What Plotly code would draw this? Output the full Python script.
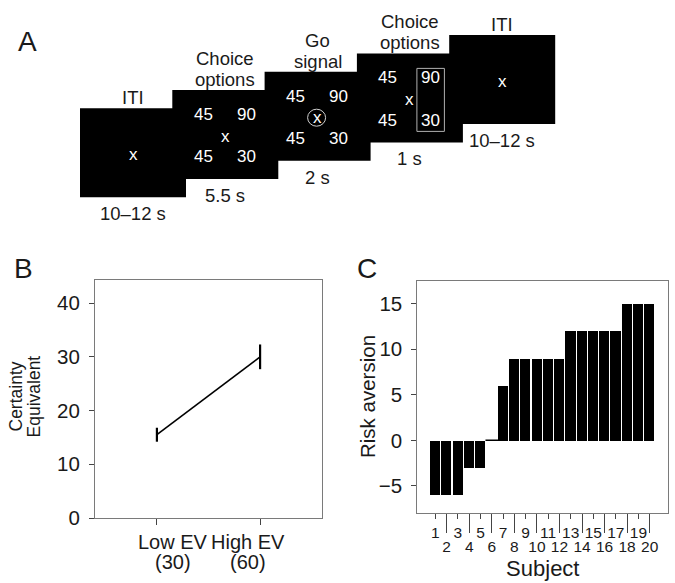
import plotly.graph_objects as go

W, H = 675, 583

# ---------------- Panel A: trial timeline ----------------
stage_titles = [["ITI"], ["Choice", "options"], ["Go", "signal"], ["Choice", "options"], ["ITI"]]
stage_durations = ["10–12 s", "5.5 s", "2 s", "1 s", "10–12 s"]
stage_screens = ["fixation", "options", "go", "chosen", "fixation"]
option_left = ["45", "45"]
option_right = ["90", "30"]

# ---------------- Panel B: certainty equivalents ----------------
ev_names = ["Low EV", "High EV"]
ev_values = ["(30)", "(60)"]
ev_positions = [1, 2]
certainty_equiv = [15.5, 30.0]
certainty_err = [1.3, 2.3]

# ---------------- Panel C: risk aversion per subject ----------------
subjects = list(range(1, 21))
risk_aversion = [-6, -6, -6, -3, -3, 0, 6, 9, 9, 9, 9, 9, 12, 12, 12, 12, 12, 15, 15, 15]

FONT = "Liberation Sans, Arial, Helvetica, sans-serif"
TXT = "#1a1a1a"
FRAME = "#7a7a7a"
TICKC = "#444"


def px(x):
    return x / W


def py(y):
    return 1 - y / H


def ann(text, x, y, size, color=TXT, xanchor="center", yanchor="middle", angle=0, **kw):
    d = dict(text=text, x=x, y=y, xref=kw.pop("xref", "paper"), yref=kw.pop("yref", "paper"),
             xanchor=xanchor, yanchor=yanchor, showarrow=False, textangle=angle,
             font=dict(size=size, color=color, family=FONT))
    d.update(kw)
    return d


fig = go.Figure()
shapes = []
annotations = []

# ---- Panel A drawing (screens laid out in a staircase) ----
RW, RH = 106, 89
for i, (title, dur, screen) in enumerate(zip(stage_titles, stage_durations, stage_screens)):
    x0 = 80 + 92.3 * i
    y0 = 108.3 - 18.3 * i
    cx = x0 + RW / 2
    shapes.append(dict(type="rect", xref="paper", yref="paper",
                       x0=px(x0), x1=px(x0 + RW), y0=py(y0 + RH), y1=py(y0),
                       fillcolor="black", line=dict(width=0), layer="above"))
    n = len(title)
    for k, line in enumerate(title):
        annotations.append(ann(line, px(cx), py(y0 - 10.5 - 21 * (n - 1 - k)), 18.5))
    annotations.append(ann(dur, px(cx), py(y0 + RH + 16.5), 18.5))
    # fixation cross
    annotations.append(ann("x", px(x0 + 53), py(y0 + 46), 17, color="white"))
    if screen in ("options", "go", "chosen"):
        for r, (lv, rv) in enumerate(zip(option_left, option_right)):
            yy = y0 + 24.5 + r * 42.5
            annotations.append(ann(lv, px(x0 + 31), py(yy), 17, color="white"))
            annotations.append(ann(rv, px(x0 + 74), py(yy), 17, color="white"))
    if screen == "go":
        shapes.append(dict(type="circle", xref="paper", yref="paper",
                           x0=px(x0 + 52 - 9), x1=px(x0 + 52 + 9),
                           y0=py(y0 + 46 + 8.5), y1=py(y0 + 46 - 8.5),
                           line=dict(color="#d0d0d0", width=1), layer="above"))
    if screen == "chosen":
        shapes.append(dict(type="rect", xref="paper", yref="paper",
                           x0=px(x0 + 60), x1=px(x0 + 87.5),
                           y0=py(y0 + 78), y1=py(y0 + 15),
                           line=dict(color="#b0b0b0", width=1), layer="above"))

# ---- Panel B ----
fig.add_trace(go.Scatter(
    x=ev_positions, y=certainty_equiv, mode="lines",
    line=dict(color="black", width=1.6),
    error_y=dict(type="data", array=certainty_err, width=0, thickness=2.2, color="black"),
    xaxis="x", yaxis="y", showlegend=False, hoverinfo="skip"))

label_shift = [16, -12.5]
for pos, name, val, sh in zip(ev_positions, ev_names, ev_values, label_shift):
    annotations.append(ann(name, pos, py(541.5), 20, xref="x", xshift=sh))
    annotations.append(ann(val, pos, py(561.5), 20, xref="x", xshift=sh))

annotations.append(ann("Certainty", px(15), py(396.5), 17.5, angle=-90))
annotations.append(ann("Equivalent", px(33), py(396.5), 17.5, angle=-90))

# ---- Panel C ----
fig.add_trace(go.Bar(
    x=subjects, y=risk_aversion, width=0.9,
    marker=dict(color="black", line=dict(width=0)),
    xaxis="x2", yaxis="y2", showlegend=False))

zero_subj = [s for s, v in zip(subjects, risk_aversion) if v == 0]
zero_vals = [v for v in risk_aversion if v == 0]
fig.add_trace(go.Scatter(
    x=zero_subj, y=zero_vals, mode="markers",
    marker=dict(symbol="line-ew", size=9, line=dict(color="black", width=1.5)),
    xaxis="x2", yaxis="y2", showlegend=False, hoverinfo="skip"))

odd_subj = [s for s in subjects if s % 2 == 1]
even_subj = [s for s in subjects if s % 2 == 0]
# invisible trace to carry the long-tick (even-subject) axis
fig.add_trace(go.Scatter(x=even_subj, y=[None] * len(even_subj), mode="markers",
                         xaxis="x3", yaxis="y2", showlegend=False, hoverinfo="skip"))

annotations.append(ann("Risk aversion", px(367), py(397), 20.5, angle=-90))

# panel letters
for letter, (lx, ly) in zip(["A", "B", "C"], [(27, 41), (23, 268), (367, 268)]):
    annotations.append(ann(letter, px(lx), py(ly), 28))

XC_RANGE = [-0.6, 21.65]

fig.update_layout(
    width=W, height=H,
    margin=dict(l=0, r=0, t=0, b=0, autoexpand=False),
    paper_bgcolor="white", plot_bgcolor="white",
    font=dict(family=FONT, color=TXT),
    shapes=shapes, annotations=annotations,
    bargap=0,
    xaxis=dict(domain=[px(95), px(322)], range=[0.4, 2.6], anchor="y", automargin=False,
               tickvals=ev_positions, showticklabels=False,
               ticks="outside", ticklen=6, tickcolor=TICKC, tickwidth=1,
               showline=True, mirror=True, linecolor=FRAME, linewidth=1,
               showgrid=False, zeroline=False),
    yaxis=dict(domain=[py(518), py(280)], range=[0, 44.3], anchor="x", automargin=False,
               tickvals=[0, 10, 20, 30, 40],
               ticks="outside", ticklen=5, tickcolor=TICKC, tickwidth=1,
               ticklabelstandoff=5,
               showline=True, mirror=True, linecolor=FRAME, linewidth=1,
               showgrid=False, zeroline=False,
               tickfont=dict(size=20.5, color=TXT)),
    xaxis2=dict(domain=[px(417.3), px(668.3)], range=XC_RANGE, anchor="y2", automargin=False,
                tickvals=odd_subj, ticktext=[str(s) for s in odd_subj], tickangle=0,
                ticks="outside", ticklen=5, tickcolor=TICKC, tickwidth=1,
                showline=True, mirror=True, linecolor=FRAME, linewidth=1,
                showgrid=False, zeroline=False,
                tickfont=dict(size=15.5, color=TXT)),
    xaxis3=dict(overlaying="x2", anchor="y2", side="bottom", range=XC_RANGE, automargin=False,
                tickvals=even_subj, ticktext=[str(s) for s in even_subj], tickangle=0,
                ticks="outside", ticklen=19, tickcolor=TICKC, tickwidth=1,
                showline=False, showgrid=False, zeroline=False,
                tickfont=dict(size=15.5, color=TXT),
                title=dict(text="Subject", font=dict(size=22, color=TXT), standoff=6)),
    yaxis2=dict(domain=[py(513.3), py(280.7)], range=[-8, 17.5], anchor="x2", automargin=False,
                tickvals=[-5, 0, 5, 10, 15],
                ticks="outside", ticklen=5, tickcolor=TICKC, tickwidth=1,
                ticklabelstandoff=5,
                showline=True, mirror=True, linecolor=FRAME, linewidth=1,
                showgrid=False, zeroline=False,
                tickfont=dict(size=20.5, color=TXT)),
)

fig.write_html("out.html", config={"displayModeBar": False},
               post_script="document.body.style.margin='0px';")
